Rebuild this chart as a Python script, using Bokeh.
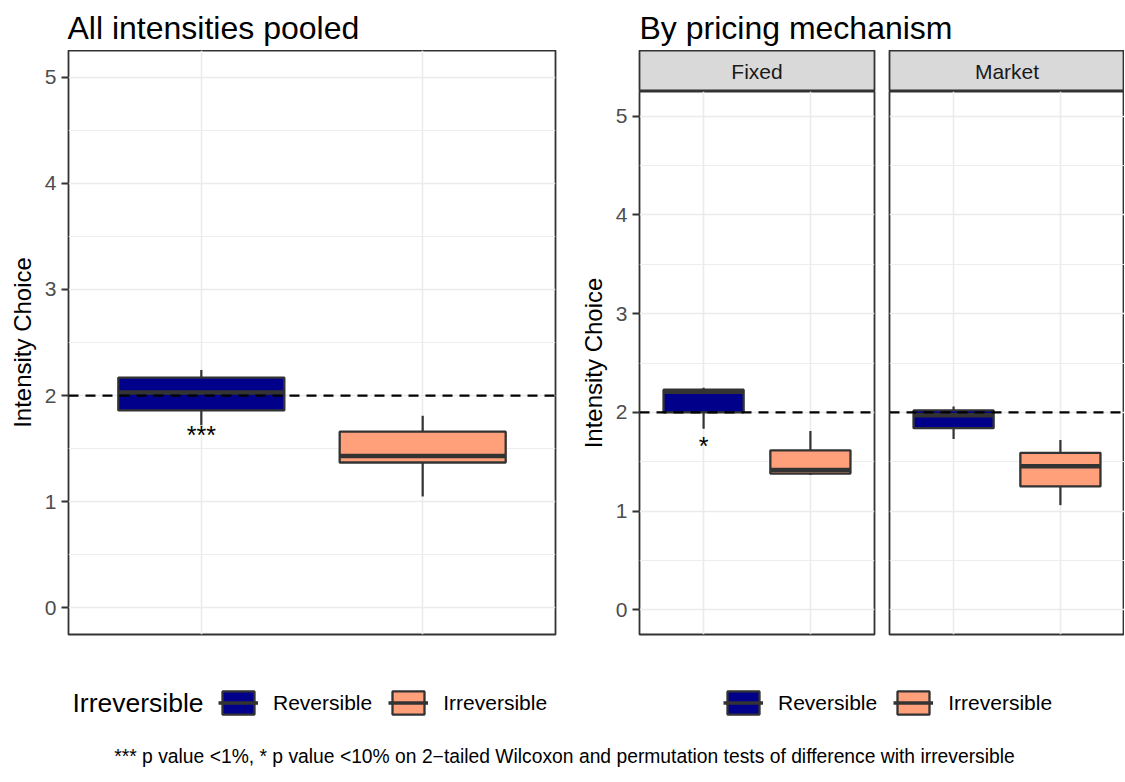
from bokeh.plotting import figure
from bokeh.models import (ColumnDataSource, FactorRange, Range1d, FixedTicker, Span,
                          Label, Legend, LegendItem)
from bokeh.layouts import column, row
from bokeh.transform import dodge
from bokeh.core.properties import value
from bokeh.embed import file_html
from bokeh.resources import INLINE

FONT = "Liberation Sans"

# ---------------- data ----------------
groups = ["Reversible", "Irreversible"]
group_colors = ["#00008B", "#FFA07A"]
mechanisms = ["Fixed", "Market"]

# pooled boxplot statistics (lower whisker, Q1, median, Q3, upper whisker)
pooled_low = [1.72, 1.05]
pooled_q1 = [1.86, 1.37]
pooled_med = [2.03, 1.43]
pooled_q3 = [2.17, 1.66]
pooled_high = [2.24, 1.81]

fixed_low = [1.835, 1.365]
fixed_q1 = [2.00, 1.38]
fixed_med = [2.21, 1.415]
fixed_q3 = [2.23, 1.615]
fixed_high = [2.25, 1.81]

market_low = [1.73, 1.06]
market_q1 = [1.84, 1.25]
market_med = [1.97, 1.455]
market_q3 = [2.02, 1.59]
market_high = [2.06, 1.72]

sig_pooled = ["***", ""]
sig_pooled_y = [1.63, 1.63]
sig_fixed = ["*", ""]
sig_fixed_y = [1.655, 1.655]
sig_market = ["", ""]
sig_market_y = [1.6, 1.6]

y_ticks = [0, 1, 2, 3, 4, 5]
y_minor = [0.5, 1.5, 2.5, 3.5, 4.5]
y_limits = (0, 5)
reference_level = 2

title_left = "All intensities pooled"
title_right = "By pricing mechanism"
y_title = "Intensity Choice"
legend_title = "Irreversible"
caption = ("*** p value <1%, * p value <10% on 2\u2212tailed Wilcoxon and "
           "permutation tests of difference with irreversible")

# ---------------- styles ----------------
BORDER = "#333333"
GRID = "#ebebeb"
pad = 0.05 * (y_limits[1] - y_limits[0])


def make_panel(lo, q1, med, q3, hi, sig, sig_y, width, height, mbl, mbr, mbb, show_y):
    src = ColumnDataSource(dict(group=groups, color=group_colors, lo=lo, q1=q1,
                                med=med, q3=q3, hi=hi, sig=sig, sig_y=sig_y))
    p = figure(x_range=FactorRange(*groups, range_padding=0.1, range_padding_units="absolute"),
               y_range=Range1d(y_limits[0] - pad, y_limits[1] + pad),
               width=width, height=height, output_backend="svg", toolbar_location=None,
               min_border_left=mbl, min_border_right=mbr, min_border_top=0,
               min_border_bottom=mbb)
    p.background_fill_color = "white"
    p.border_fill_color = "white"
    p.outline_line_color = BORDER
    p.outline_line_width = 1.8

    p.xaxis.visible = False
    p.xgrid.grid_line_color = GRID
    p.xgrid.grid_line_width = 1.6
    p.ygrid.ticker = FixedTicker(ticks=y_ticks, minor_ticks=y_minor)
    p.ygrid.grid_line_color = GRID
    p.ygrid.grid_line_width = 1.6
    p.ygrid.minor_grid_line_color = GRID
    p.ygrid.minor_grid_line_width = 0.9

    if show_y:
        ax = p.yaxis[0]
        ax.ticker = FixedTicker(ticks=y_ticks)
        ax.axis_line_color = None
        ax.major_tick_out = 7
        ax.major_tick_in = 0
        ax.minor_tick_out = 0
        ax.minor_tick_in = 0
        ax.major_tick_line_color = BORDER
        ax.major_tick_line_width = 1.8
        ax.major_label_text_font = FONT
        ax.major_label_text_font_size = "21px"
        ax.major_label_text_color = "#4d4d4d"
        ax.major_label_standoff = 5
        ax.axis_label = y_title
        ax.axis_label_text_font = FONT
        ax.axis_label_text_font_size = "24px"
        ax.axis_label_text_font_style = "normal"
        ax.axis_label_text_color = "black"
        ax.axis_label_standoff = 6
    else:
        p.yaxis.visible = False

    p.segment(x0="group", y0="lo", x1="group", y1="hi", source=src,
              line_color=BORDER, line_width=2.2)
    p.vbar(x="group", width=0.75, bottom="q1", top="q3", source=src,
           fill_color="color", line_color=BORDER, line_width=2.3)
    p.segment(x0=dodge("group", -0.375, range=p.x_range), y0="med",
              x1=dodge("group", 0.375, range=p.x_range), y1="med", source=src,
              line_color=BORDER, line_width=4.5, line_cap="butt")
    p.add_layout(Span(location=reference_level, dimension="width", line_color="black",
                      line_dash="10 7", line_width=2.2))
    p.text(x="group", y="sig_y", text="sig", source=src, text_align="center",
           text_baseline="middle", text_font=value(FONT), text_font_size="25px",
           text_color="black")
    return p


def make_strip(name, width, mbl, mbr):
    s = figure(width=width, height=41, x_range=Range1d(0, 1), y_range=Range1d(0, 1),
               min_border_left=mbl, min_border_right=mbr, min_border_top=0,
               min_border_bottom=0, output_backend="svg", toolbar_location=None)
    s.axis.visible = False
    s.grid.visible = False
    s.background_fill_color = "#d9d9d9"
    s.border_fill_color = "white"
    s.outline_line_color = BORDER
    s.outline_line_width = 1.8
    s.add_layout(Label(x=0.5, y=0.5, text=name, text_align="center", text_baseline="middle",
                       text_font=FONT, text_font_size="21px", text_color="#1a1a1a"))
    return s


left = make_panel(pooled_low, pooled_q1, pooled_med, pooled_q3, pooled_high,
                  sig_pooled, sig_pooled_y, 565, 590, 68, 10, 6, True)
fixed = make_panel(fixed_low, fixed_q1, fixed_med, fixed_q3, fixed_high,
                   sig_fixed, sig_fixed_y, 316, 549, 74, 7, 6, True)
market = make_panel(market_low, market_q1, market_med, market_q3, market_high,
                    sig_market, sig_market_y, 243, 549, 8, 0, 6, False)
strip_fixed = make_strip(mechanisms[0], 316, 74, 7)
strip_market = make_strip(mechanisms[1], 243, 8, 0)

# ---------------- header with titles ----------------
W = 1124
HH = 50
header = figure(width=W, height=HH, x_range=Range1d(0, W), y_range=Range1d(HH, 0),
                min_border=0, output_backend="svg", toolbar_location=None)
header.axis.visible = False
header.grid.visible = False
header.outline_line_color = None
header.add_layout(Label(x=67, y=27, text=title_left, text_baseline="alphabetic",
                        text_font=FONT, text_font_size="32px", text_color="black"))
header.add_layout(Label(x=639, y=27, text=title_right, text_baseline="alphabetic",
                        text_font=FONT, text_font_size="32px", text_color="black"))

# ---------------- legends and caption ----------------
LH = 141
leg = figure(width=W, height=LH, x_range=Range1d(0, W), y_range=Range1d(LH, 0),
             min_border=0, output_backend="svg", toolbar_location=None)
leg.axis.visible = False
leg.grid.visible = False
leg.outline_line_color = None

# legend-key renderers (hidden in the plot itself, only drawn as legend keys)
key_src = ColumnDataSource(dict(color=group_colors, q1=pooled_q1, q3=pooled_q3,
                                med=pooled_med))
key_box = leg.vbar(x="med", top="q3", bottom="q1", width=0.1, fill_color="color",
                   line_color=BORDER, line_width=2.3, source=key_src, visible=False)
key_med = leg.segment(x0="q1", y0="med", x1="q3", y1="med", line_color=BORDER,
                      line_width=3.5, source=key_src, visible=False)

items_l = [LegendItem(label=g, renderers=[key_box, key_med], index=i)
           for i, g in enumerate(groups)]
items_r = [LegendItem(label=g, renderers=[key_box, key_med], index=i)
           for i, g in enumerate(groups)]


def style_legend(lg):
    lg.orientation = "horizontal"
    lg.glyph_width = 40
    lg.glyph_height = 29
    lg.label_height = 29
    lg.label_standoff = 15
    lg.spacing = 16
    lg.padding = 0
    lg.margin = 0
    lg.border_line_color = None
    lg.background_fill_alpha = 0
    lg.inactive_fill_alpha = 0
    lg.label_text_font = FONT
    lg.label_text_font_size = "21px"
    lg.label_text_color = "black"


lg_left = Legend(items=items_l, location=(218, 64))
lg_right = Legend(items=items_r, location=(723, 64))
style_legend(lg_left)
style_legend(lg_right)
leg.add_layout(lg_left)
leg.add_layout(lg_right)

leg.add_layout(Label(x=72, y=62.5, text=legend_title, text_baseline="middle",
                     text_font=FONT, text_font_size="26.5px", text_color="black"))
leg.add_layout(Label(x=564, y=116, text=caption, text_align="center",
                     text_baseline="middle", text_font=FONT, text_font_size="19.3px",
                     text_color="black"))

top_row = row(left, column(strip_fixed, fixed, spacing=0),
              column(strip_market, market, spacing=0), spacing=0)
layout = column(header, top_row, leg, spacing=0)

open("out.html", "w").write(file_html(layout, INLINE))
